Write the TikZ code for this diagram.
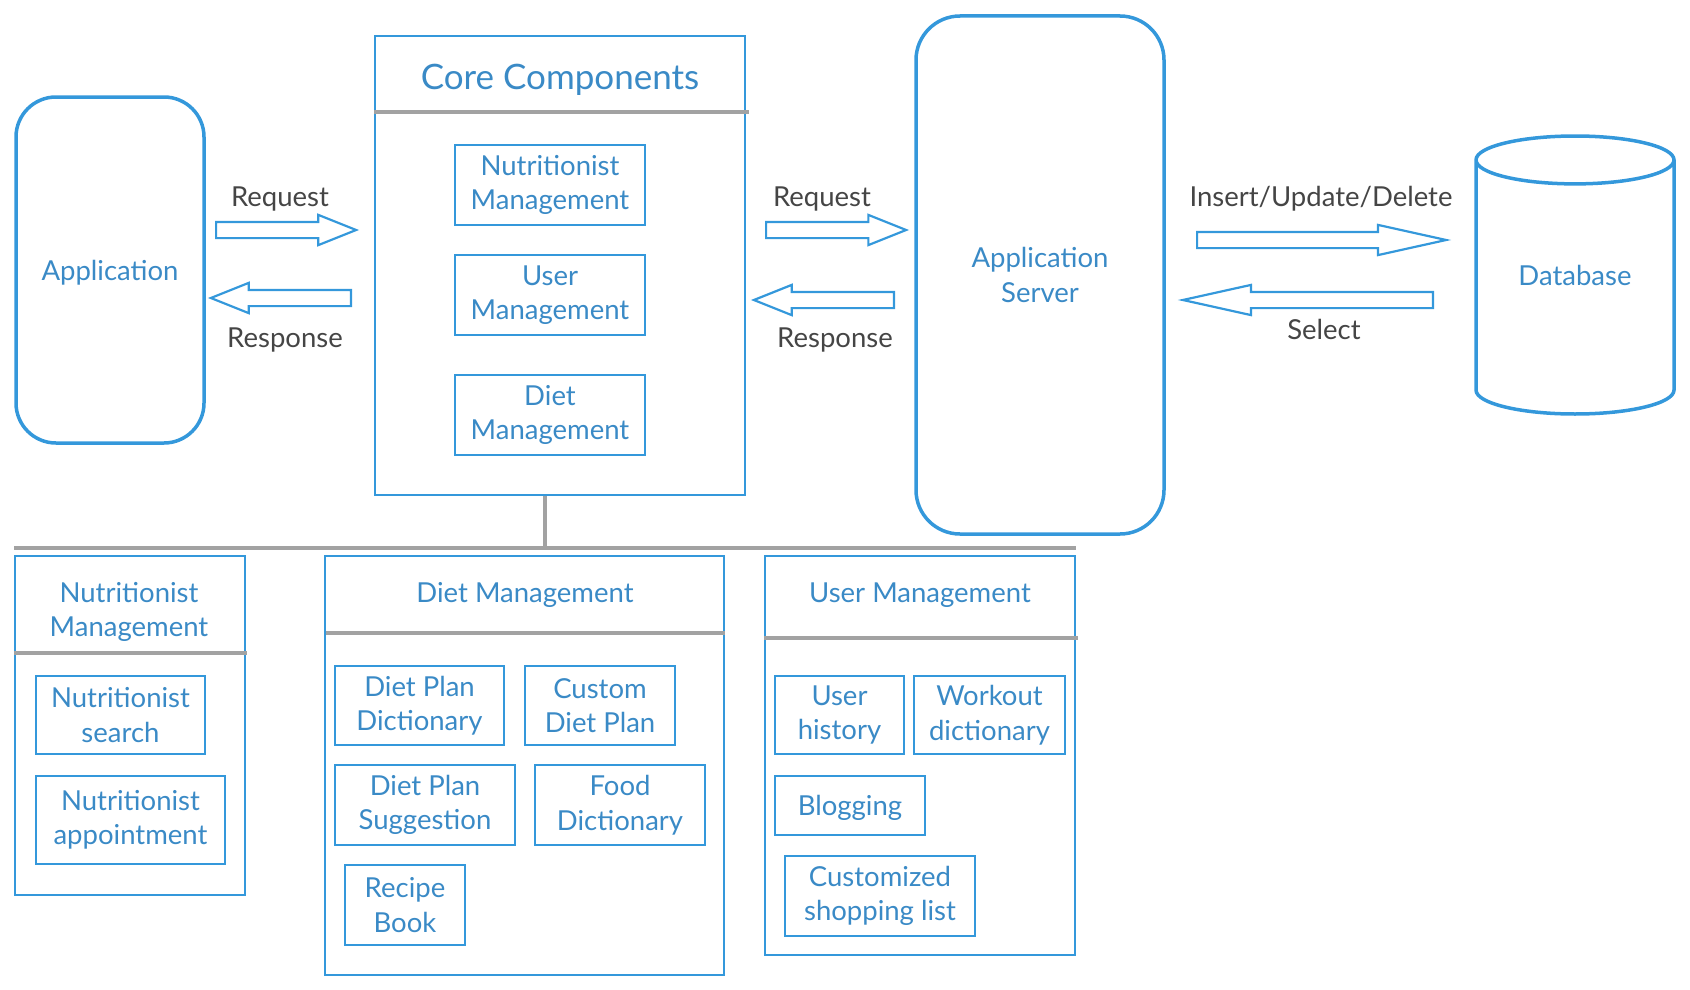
\documentclass[tikz,border=0pt]{standalone}
\usepackage{fontspec}
\setmainfont{Lato}
\usepackage{xcolor}
\usepackage{tikz}
\usetikzlibrary{shapes.geometric,shapes.arrows,positioning,calc}
\definecolor{arline}{HTML}{3498DB}
\definecolor{artext}{HTML}{3A8AC6}
\definecolor{argray}{HTML}{A2A2A2}
\definecolor{arlabel}{HTML}{454545}
\tikzset{
  txt/.style={font=\fontsize{27.5}{34.5}\selectfont,text=artext,align=center},
  lower/.style={execute at begin node={\rule{0pt}{26pt}}},
  appbox/.style={rectangle,draw=arline,line width=3.5pt,rounded corners=40pt,txt},
  panel/.style={rectangle,draw=arline,line width=2pt,inner sep=0pt},
  item/.style={rectangle,draw=arline,line width=2pt,inner sep=0pt,txt,lower},
  dbase/.style={cylinder,shape border rotate=90,draw=arline,line width=3.5pt,
                aspect=0.4,minimum width=198pt,minimum height=278pt,txt},
  hollow/.style={single arrow,draw=arline,line width=2.2pt,inner xsep=0pt,
                 inner ysep=7pt,single arrow head extend=7pt,
                 single arrow head indent=0pt,anchor=tail},
  lbl/.style={font=\fontsize{27.5}{34.5}\selectfont,text=arlabel,yshift=-3pt},
  title/.style={txt,yshift=-3pt},
  bus/.style={draw=argray,line width=3.5pt},
}

\begin{document}
\begin{tikzpicture}[x=1pt,y=-1pt]
\useasboundingbox (0,0) rectangle (1690,990);
% top row
\node[appbox,lower,minimum width=188pt,minimum height=346pt] (app) at (110,270) {Application};
\node[panel,minimum width=370pt,minimum height=459pt] (core) at (560,265.5) {};
\node[title,font=\fontsize{35}{42}\selectfont] (coret) at (560,77) {Core Components};
\node[item,minimum width=190pt,minimum height=80pt] (cnm) at (550,185) {Nutritionist\\Management};
\node[item,minimum width=190pt,minimum height=80pt] (cum) at (550,295) {User\\Management};
\node[item,minimum width=190pt,minimum height=80pt] (cdm) at (550,415) {Diet\\Management};
\node[appbox,rounded corners=44pt,minimum width=248pt,minimum height=518pt] (srv) at (1040,275) {Application\\Server};
\node[dbase,anchor=shape center] (db) at (1575,275) {\phantom{Database}};
\node[txt] (dbt) at (db.shape center) {Database};

% arrows
\node[hollow,minimum height=140pt,single arrow tip angle=43.6] (rq1) at (215,230) {};
\node[hollow,minimum height=140pt,single arrow tip angle=43.6,shape border rotate=180] (rs1) at (352,298) {};
\node[hollow,minimum height=140pt,single arrow tip angle=43.6] (rq2) at (765,230) {};
\node[hollow,minimum height=140pt,single arrow tip angle=43.6,shape border rotate=180] (rs2) at (895,300) {};
\node[hollow,minimum height=249pt,single arrow tip angle=25] (iud) at (1196,240) {};
\node[hollow,minimum height=250pt,single arrow tip angle=25,shape border rotate=180] (sel) at (1434,300) {};
\node[lbl] (lrq1) at (280,196) {Request};
\node[lbl] (lrs1) at (285,337) {Response};
\node[lbl] (lrq2) at (822,196) {Request};
\node[lbl] (lrs2) at (835,337) {Response};
\node[lbl] (liud) at (1321,196) {Insert/Update/Delete};
\node[lbl] (lsel) at (1324,326) {Select};

% bottom row
\node[panel,minimum width=230pt,minimum height=339pt] (pnm) at (130,725.5) {};
\node[title] (pnmt) at (129,609) {Nutritionist\\Management};
\node[item,minimum width=169pt,minimum height=78pt] (nsr) at (120.5,715) {Nutritionist\\search};
\node[item,minimum width=189pt,minimum height=88pt] (nap) at (130.5,820) {Nutritionist\\appointment};

\node[panel,minimum width=399pt,minimum height=419pt] (pdm) at (524.5,765.5) {};
\node[title] (pdmt) at (525,592) {Diet Management};
\node[item,minimum width=169pt,minimum height=79pt] (dpd) at (419.5,705.5) {Diet Plan\\Dictionary};
\node[item,minimum width=150pt,minimum height=79pt] (cdp) at (600,705.5) {Custom\\Diet Plan};
\node[item,minimum width=180pt,minimum height=80pt] (dps) at (425,805) {Diet Plan\\Suggestion};
\node[item,minimum width=170pt,minimum height=80pt] (fdd) at (620,805) {Food\\Dictionary};
\node[item,minimum width=120pt,minimum height=80pt] (rcb) at (405,905) {Recipe\\Book};

\node[panel,minimum width=310pt,minimum height=399pt] (pum) at (920,755.5) {};
\node[title] (pumt) at (920,592) {User Management};
\node[item,minimum width=129pt,minimum height=78pt] (uhs) at (839.5,715) {User\\history};
\node[item,minimum width=151pt,minimum height=78pt] (wkd) at (989.5,715) {Workout\\dictionary};
\node[item,minimum width=150pt,minimum height=59pt] (blg) at (850,805.5) {Blogging};
\node[item,minimum width=190pt,minimum height=80pt] (csl) at (880,896) {Customized\\shopping list};

% gray lines
\coordinate (busl) at (14,548);
\coordinate (busr) at (1076,548);
\coordinate (stem) at (545,548);
\draw[bus] (busl) -- (busr);
\draw[bus] (stem |- core.south) -- (stem);
\draw[bus] ($(core.west)+(0,-153.5)$) -- ($(core.east)+(3,-153.5)$);
\draw[bus] ($(pnm.north west)+(0,98)$) -- ($(pnm.north east)+(1,98)$);
\draw[bus] ($(pdm.north west)+(2,78)$) -- ($(pdm.north east)+(0,78)$);
\draw[bus] ($(pum.north west)+(0,83)$) -- ($(pum.north east)+(2,83)$);
\end{tikzpicture}
\end{document}
